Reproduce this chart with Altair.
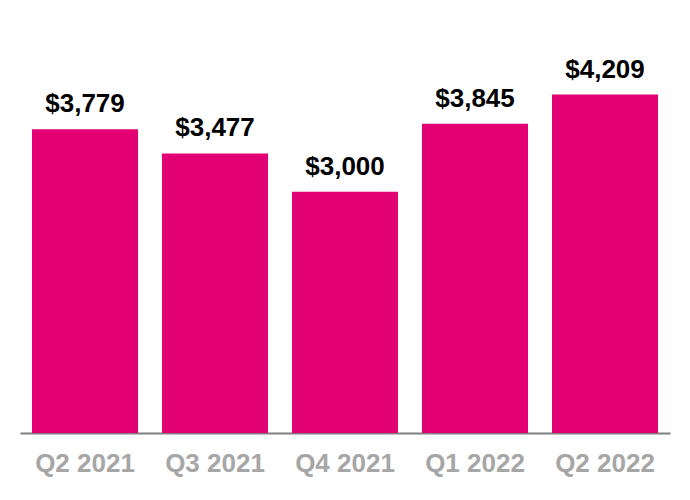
import altair as alt
import pandas as pd

quarters = ["Q2 2021", "Q3 2021", "Q4 2021", "Q1 2022", "Q2 2022"]
values = [3779, 3477, 3000, 3845, 4209]
labels = ["$3,779", "$3,477", "$3,000", "$3,845", "$4,209"]

df = pd.DataFrame({"q": quarters, "v": values, "lbl": labels})

x = alt.X("q:N", sort=quarters, title=None,
          scale=alt.Scale(paddingInner=0.1846, paddingOuter=0.0923),
          axis=alt.Axis(labelAngle=0, ticks=False, domainColor="#7f7f7f", domainWidth=2,
                        labelColor="#A6A6A6", labelFont="Liberation Sans", labelFontSize=26,
                        labelFontWeight="bold", labelBaseline="alphabetic", labelPadding=38))
y = alt.Y("v:Q", scale=alt.Scale(domain=[0, 5000], nice=False), axis=None)

bars = alt.Chart(df).mark_bar(color="#E20074").encode(x=x, y=y)
text = alt.Chart(df).mark_text(font="Liberation Sans", fontSize=26, fontWeight="bold",
                               color="#000000", baseline="alphabetic", dy=-17).encode(
    x=alt.X("q:N", sort=quarters), y=y, text="lbl:N")

chart = (bars + text).properties(
    width=650, height=402,
    background="white",
    autosize=alt.AutoSizeParams(type="none"),
    padding={"left": 20, "top": 31, "right": 20, "bottom": 67},
).configure_view(strokeWidth=0, stroke="transparent")

chart.save("out.html", embed_options={"renderer": "svg", "actions": False})
